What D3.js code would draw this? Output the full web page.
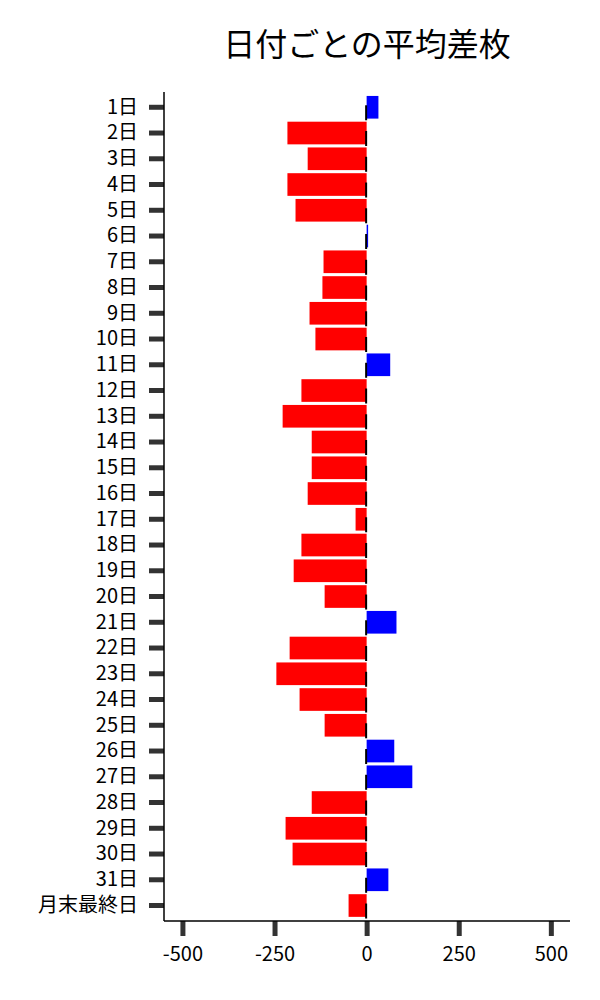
<!DOCTYPE html>
<html>
<head>
<meta charset="utf-8">
<script src="https://cdn.jsdelivr.net/npm/d3@7"></script>
<style>
  body { margin: 0; background: #fff; }
  text { font-family: "Noto Sans CJK JP", "Noto Sans", sans-serif; }
</style>
</head>
<body>
<svg id="chart"></svg>
<script>
const days = [
  "1日", "2日", "3日", "4日", "5日", "6日", "7日", "8日", "9日", "10日",
  "11日", "12日", "13日", "14日", "15日", "16日", "17日", "18日", "19日", "20日",
  "21日", "22日", "23日", "24日", "25日", "26日", "27日", "28日", "29日", "30日",
  "31日", "月末最終日"
];
const avgDiff = [
  32, -215, -160, -215, -193, 4, -117, -120, -155, -139,
  64, -177, -228, -149, -149, -160, -30, -177, -198, -114,
  81, -209, -245, -182, -114, 75, 124, -149, -220, -201,
  59, -49
];
const xTicks = [-500, -250, 0, 250, 500];

const w = 600;
const h = 1000;
const pLeft = 164;
const pRight = 570;
const pTop = 92;
const pBottom = 921;

const svg = d3.select("#chart").attr("width", w).attr("height", h);

const data = days.map((d, i) => ({ day: d, value: avgDiff[i] }));

const xScale = d3.scaleLinear().domain([-550, 552]).range([pLeft, pRight]);
const yScale = d3.scaleBand()
  .domain(days)
  .range([94.4, 918.4])
  .paddingInner(0.12)
  .paddingOuter(0.06);

// title
svg.append("text")
  .attr("x", (pLeft + pRight) / 2)
  .attr("y", 56)
  .attr("text-anchor", "middle")
  .attr("font-size", 32)
  .attr("fill", "#000")
  .text("日付ごとの平均差枚");

// bars
svg.selectAll("rect.bar")
  .data(data)
  .enter()
  .append("rect")
  .attr("class", "bar")
  .attr("x", (d) => xScale(Math.min(0, d.value)))
  .attr("y", (d) => yScale(d.day))
  .attr("width", (d) => Math.abs(xScale(d.value) - xScale(0)))
  .attr("height", yScale.bandwidth())
  .attr("fill", (d) => (d.value >= 0 ? "#0000ff" : "#ff0000"));

// little black marks at zero
svg.selectAll("line.mark")
  .data(data)
  .enter()
  .append("line")
  .attr("class", "mark")
  .attr("x1", xScale(0) - 0.5)
  .attr("x2", xScale(0) - 0.5)
  .attr("y1", (d) => yScale(d.day) + yScale.bandwidth() / 2 - 2)
  .attr("y2", (d) => yScale(d.day) + yScale.bandwidth() / 2 + 13)
  .attr("stroke", "#000")
  .attr("stroke-width", 2);

// y axis
const yAxis = d3.axisLeft(yScale).tickSize(15).tickPadding(11);
const gy = svg.append("g")
  .attr("transform", `translate(${pLeft},0)`)
  .call(yAxis);
gy.select(".domain").remove();
gy.selectAll(".tick line").attr("stroke", "#333").attr("stroke-width", 5);
gy.selectAll(".tick text").attr("font-size", 20).attr("fill", "#000");

// x axis
const xAxis = d3.axisBottom(xScale)
  .tickValues(xTicks)
  .tickFormat((d) => String(d))
  .tickSize(15)
  .tickPadding(11);
const gx = svg.append("g")
  .attr("transform", `translate(0,${pBottom})`)
  .call(xAxis);
gx.select(".domain").remove();
gx.selectAll(".tick line").attr("stroke", "#333").attr("stroke-width", 5);
gx.selectAll(".tick text").attr("font-size", 20).attr("fill", "#000");

// spines
svg.append("line")
  .attr("x1", pLeft).attr("x2", pLeft)
  .attr("y1", pTop).attr("y2", pBottom)
  .attr("stroke", "#000").attr("stroke-width", 1.5);
svg.append("line")
  .attr("x1", pLeft).attr("x2", pRight)
  .attr("y1", pBottom).attr("y2", pBottom)
  .attr("stroke", "#000").attr("stroke-width", 1.5);
</script>
</body>
</html>
